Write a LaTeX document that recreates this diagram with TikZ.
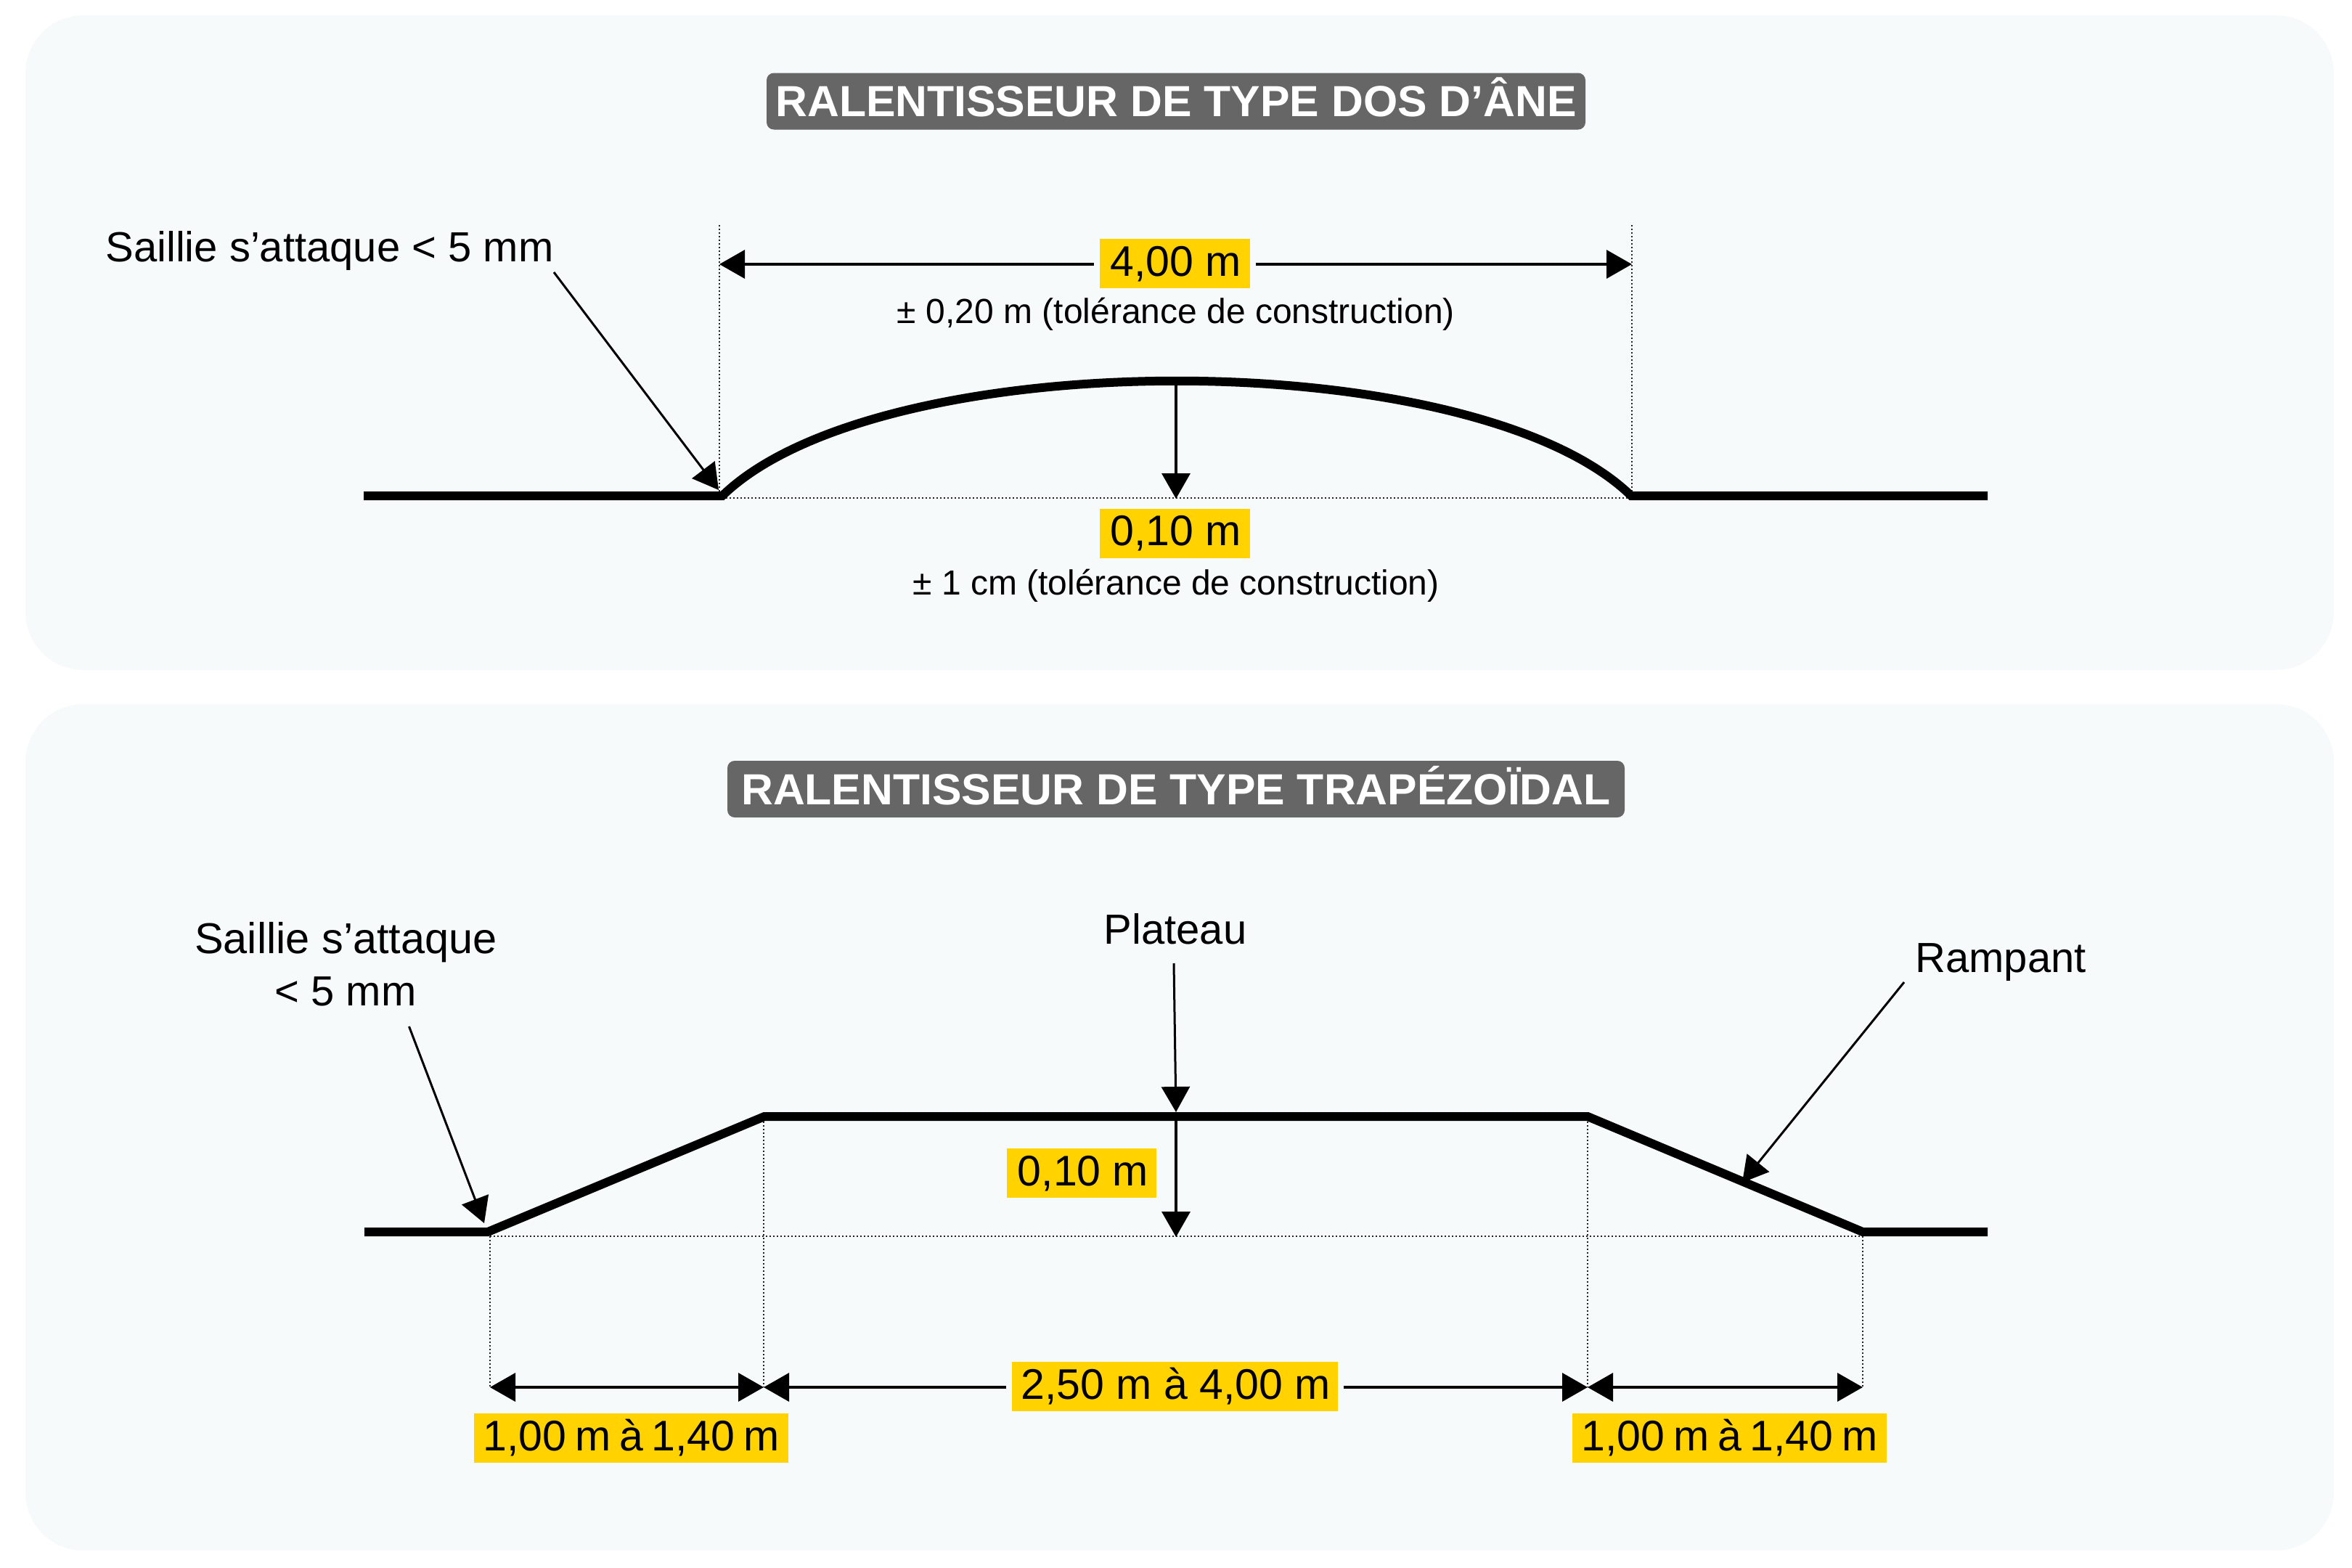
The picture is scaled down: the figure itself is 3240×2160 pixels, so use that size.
\documentclass[tikz,border=0pt]{standalone}
\usepackage{fontspec}
\setmainfont{Liberation Sans}
\newfontfamily\titlefont[FakeStretch=1.012]{Liberation Sans Bold}
\newfontfamily\tightfont[WordSpace=0.72]{Liberation Sans}
\usetikzlibrary{arrows.meta}
\definecolor{panelbg}{HTML}{F6FAFB}
\definecolor{labelyellow}{HTML}{FFD200}
\definecolor{titlegrey}{HTML}{666666}
\definecolor{dotgrey}{HTML}{222222}
\tikzset{
  panel/.style={fill=panelbg,draw=none,rounded corners=80pt},
  titlebox/.style={fill=titlegrey,text=white,rounded corners=10pt,inner sep=0pt,font=\titlefont\fontsize{60}{60}\selectfont,text height=60pt,text depth=18pt,anchor=center},
  dimlabel/.style={fill=labelyellow,inner sep=0pt,outer sep=8pt,text height=51pt,text depth=17pt,font=\fontsize{59}{59}\selectfont},
  callout/.style={inner sep=0pt,anchor=base,font=\fontsize{58}{58}\selectfont},
  tolnote/.style={inner sep=0pt,anchor=base,font=\fontsize{48}{48}\selectfont},
  road/.style={line width=12pt,line join=miter,line cap=butt},
  guide/.style={line width=2.5pt,dotgrey,dash pattern=on 2pt off 3pt},
  dimarrow/.style={line width=3.5pt,-{Triangle[length=35pt,width=39pt]}},
  dimboth/.style={line width=3.5pt,{Triangle[length=35pt,width=39pt]}-{Triangle[length=35pt,width=39pt]}},
  leader/.style={line width=3pt,-{Triangle[length=35pt,width=39pt]}}
}
\begin{document}
\begin{tikzpicture}[x=1pt,y=-1pt]
\useasboundingbox (0,0) rectangle (3240,2160);
\fill[white] (0,0) rectangle (3240,2160);
\fill[panel] (35,21) rectangle (3215,923);
\fill[panel] (35,970) rectangle (3215,2136);

% ---- top panel
\node[titlebox,minimum width=1128pt] (t1) at (1620,139.5) {RALENTISSEUR DE TYPE DOS D’ÂNE};
\coordinate (a0) at (501,683);
\coordinate (a1) at (995,683);
\coordinate (a2) at (2247,683);
\coordinate (a3) at (2738,683);
\coordinate (atop) at (1620,525);
\coordinate (abase) at (1620,687);
\draw[guide] (a1 |- 0,686) -- (a2 |- 0,686);
\coordinate (gl1) at (991,310);
\coordinate (gl2) at (991,683);
\coordinate (gr1) at (2248,310);
\coordinate (gr2) at (2248,683);
\draw[guide] (gl1) -- (gl2);
\draw[guide] (gr1) -- (gr2);
\draw[road] (a0) -- (a1) .. controls (1212,472) and (2030,472) .. (a2) -- (a3);

\node[dimlabel,minimum width=207pt] (w1) at (1618.5,363) {\hspace*{2pt}4,00 m};
\coordinate (wl) at (991,364);
\coordinate (wr) at (2248,364);
\draw[dimarrow] (w1.west |- wl) -- (wl);
\draw[dimarrow] (w1.east |- wr) -- (wr);
\node[tolnote] (n1) at (1620,445) {± 0,20 m (tolérance de construction)};
\draw[dimarrow] (atop) -- (abase);
\node[dimlabel,minimum width=207pt] (w2) at (1618.5,734.5) {\hspace*{2pt}0,10 m};
\node[tolnote] (n2) at (1620,819) {± 1 cm (tolérance de construction)};
\node[callout] (s1) at (454,360) {Saillie s’attaque < 5 mm};
\coordinate (s1a) at (763,375);
\coordinate (s1b) at (990,675);
\draw[leader] (s1a) -- (s1b);

% ---- bottom panel
\node[titlebox,minimum width=1236pt] (t2) at (1620,1087) {RALENTISSEUR DE TYPE TRAPÉZOÏDAL};
\coordinate (b0) at (502,1697);
\coordinate (b1) at (672,1697);
\coordinate (b2) at (1053,1538);
\coordinate (b3) at (2187,1538);
\coordinate (b4) at (2566,1697);
\coordinate (b5) at (2738,1697);
\coordinate (d1) at (675,1911);
\coordinate (d2) at (1052,1911);
\coordinate (d3) at (2187,1911);
\coordinate (d4) at (2566,1911);
\draw[guide] (675,1703) -- (2566,1703);
\draw[guide] (675,1703) -- (d1);
\draw[guide] (1052,1545) -- (d2);
\draw[guide] (2187,1545) -- (d3);
\draw[guide] (2566,1703) -- (d4);
\draw[road] (b0) -- (b1) -- (b2) -- (b3) -- (b4) -- (b5);

\node[dimlabel,minimum width=449pt] (m) at (1618.5,1910) {\hspace*{2pt}2,50 m à 4,00 m};
\draw[dimarrow] (m.west |- d2) -- (d2);
\draw[dimarrow] (m.east |- d3) -- (d3);
\draw[dimboth] (d1) -- (d2);
\draw[dimboth] (d3) -- (d4);
\node[dimlabel,minimum width=433pt,font=\tightfont\fontsize{59}{59}\selectfont] (l1) at (869.5,1981) {1,00 m à 1,40 m};
\node[dimlabel,minimum width=433pt,font=\tightfont\fontsize{59}{59}\selectfont] (l2) at (2382.5,1981) {1,00 m à 1,40 m};
\node[dimlabel,minimum width=206pt] (h) at (1490,1616) {\hspace*{4pt}0,10 m};
\coordinate (h1) at (1620,1538);
\coordinate (h2) at (1620,1704);
\draw[dimarrow] (h1) -- (h2);

\node[callout] (p) at (1619,1300) {Plateau};
\coordinate (pa) at (1617,1327);
\coordinate (pb) at (1620,1532);
\draw[leader] (pa) -- (pb);
\node[callout] (r) at (2756,1339) {Rampant};
\coordinate (ra) at (2623,1353);
\coordinate (rb) at (2400,1629);
\draw[leader] (ra) -- (rb);
\node[callout,font=\fontsize{59.5}{59.5}\selectfont] (s2) at (476.5,1313) {Saillie s’attaque};
\node[callout] (s3) at (476,1385) {< 5 mm};
\coordinate (sa) at (563.5,1414);
\coordinate (sb) at (667,1685);
\draw[leader] (sa) -- (sb);
\end{tikzpicture}
\end{document}
